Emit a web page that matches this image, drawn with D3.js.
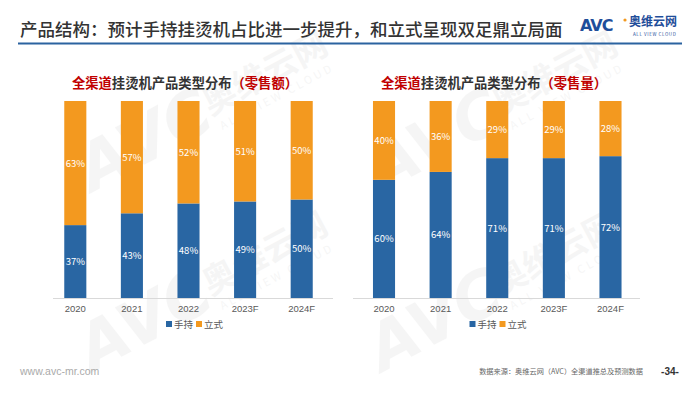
<!DOCTYPE html>
<html><head><meta charset="utf-8">
<script src="https://cdn.jsdelivr.net/npm/d3@7"></script>
<style>html,body{margin:0;padding:0;background:#fff;}svg{display:block;}</style>
</head><body>
<svg id="c" width="700" height="394"></svg>
<script>
const years = ["2020","2021","2022","2023F","2024F"];
const amountHandheld = [37,43,48,49,50];
const amountStanding = [63,57,52,51,50];
const volumeHandheld = [60,64,71,71,72];
const volumeStanding = [40,36,29,29,28];
const seriesNames = ["手持","立式"];
const titleMain = "产品结构：预计手持挂烫机占比进一步提升，和立式呈现双足鼎立局面";
const chartTitles = [["全渠道","挂烫机产品类型分布","（零售额）"],["全渠道","挂烫机产品类型分布","（零售量）"]];

const BLUE = "#2966A3", ORANGE = "#F3991F";
const FONT = "'Noto Sans CJK SC','Noto Sans',sans-serif";
const svg = d3.select("#c");

// watermarks
function watermark(cx, cy){
  const g = svg.append("g").attr("transform",`translate(${cx},${cy}) rotate(-28)`).attr("fill","#000").attr("opacity",0.035);
  g.append("text").attr("x",-120).attr("y",18).attr("font-family","'DejaVu Sans',sans-serif").attr("font-weight","bold").attr("font-style","italic").attr("font-size",64).text("AVC");
  g.append("text").attr("x",20).attr("y",6).attr("font-family",FONT).attr("font-weight","bold").attr("font-size",34).text("奥维云网");
  g.append("text").attr("x",24).attr("y",24).attr("font-family",FONT).attr("font-size",11).attr("letter-spacing",3).text("ALL VIEW CLOUD");
}
watermark(190,120); watermark(190,300); watermark(480,120); watermark(480,300);

// header
svg.append("text").attr("x",20).attr("y",36).attr("font-family",FONT).attr("font-size",17.5).attr("font-weight",500).attr("fill","#333").text(titleMain);
svg.append("line").attr("x1",18).attr("x2",682).attr("y1",43.5).attr("y2",43.5).attr("stroke","#2B63A0").attr("stroke-width",2);
// logo
svg.append("text").attr("x",580).attr("y",31).attr("font-family","'DejaVu Sans',sans-serif").attr("font-weight","bold").attr("font-size",16).attr("fill","#1F4E9A").attr("letter-spacing",-1).text("AVC");
svg.append("circle").attr("cx",625).attr("cy",20).attr("r",1.6).attr("fill",ORANGE);
svg.append("text").attr("x",629).attr("y",26).attr("font-family",FONT).attr("font-weight","bold").attr("font-size",12).attr("fill","#1F4E9A").text("奥维云网");
svg.append("text").attr("x",633).attr("y",36).attr("font-family",FONT).attr("font-size",4.5).attr("fill","#1F4E9A").attr("letter-spacing",0.6).text("ALL VIEW CLOUD");

// footer
svg.append("text").attr("x",20).attr("y",375).attr("font-family","'Liberation Sans',sans-serif").attr("font-size",10.5).attr("fill","#aaa").text("www.avc-mr.com");
svg.append("text").attr("x",643).attr("y",374).attr("text-anchor","end").attr("font-family",FONT).attr("font-size",7.2).attr("fill","#666").text("数据来源：奥维云网（AVC）全渠道推总及预测数据");
svg.append("text").attr("x",670).attr("y",375).attr("text-anchor","middle").attr("font-family","'Liberation Sans',sans-serif").attr("font-weight","bold").attr("font-size",10).attr("fill","#333").text("-34-");

function drawChart(range, axisRange, handheld, standing, titleParts, titleX){
  const x = d3.scaleBand().domain(years).range(range).paddingInner(0.61).paddingOuter(0.305);
  const y = d3.scaleLinear().domain([0,100]).range([298,101]);
  const g = svg.append("g");
  const t = g.append("text").attr("x",titleX).attr("y",88).attr("text-anchor","middle").attr("font-family",FONT).attr("font-weight","bold").attr("font-size",13.3);
  t.append("tspan").attr("fill","#C00000").text(titleParts[0]);
  t.append("tspan").attr("fill","#333").text(titleParts[1]);
  t.append("tspan").attr("fill","#C00000").text(titleParts[2]);
  g.append("line").attr("x1",axisRange[0]).attr("x2",axisRange[1]).attr("y1",298.5).attr("y2",298.5).attr("stroke","#d9d9d9").attr("stroke-width",1);
  const rows = years.map((yr,i)=>({yr, h:handheld[i], s:standing[i]}));
  g.selectAll(".h").data(rows).join("rect").attr("x",d=>x(d.yr)).attr("width",x.bandwidth())
    .attr("y",d=>y(d.h)).attr("height",d=>y(0)-y(d.h)).attr("fill",BLUE);
  g.selectAll(".s").data(rows).join("rect").attr("x",d=>x(d.yr)).attr("width",x.bandwidth())
    .attr("y",d=>y(d.h+d.s)).attr("height",d=>y(d.h)-y(d.h+d.s)).attr("fill",ORANGE);
  g.selectAll(".hl").data(rows).join("text").attr("x",d=>x(d.yr)+x.bandwidth()/2).attr("y",d=>y(d.h/2)+3.5)
    .attr("text-anchor","middle").attr("font-family",FONT).attr("font-size",9.5).attr("fill","#fff").text(d=>d.h+"%");
  g.selectAll(".sl").data(rows).join("text").attr("x",d=>x(d.yr)+x.bandwidth()/2).attr("y",d=>y(d.h+d.s/2)+3.5)
    .attr("text-anchor","middle").attr("font-family",FONT).attr("font-size",9.5).attr("fill","#fff").text(d=>d.s+"%");
  const ax = g.append("g").attr("transform","translate(0,298)").call(d3.axisBottom(x).tickSize(0).tickPadding(7));
  ax.select(".domain").remove();
  ax.selectAll("text").attr("font-family","'Liberation Sans',sans-serif").attr("font-size",9.5).attr("fill","#595959");
  const cx = (axisRange[0]+axisRange[1])/2 - 3;
  const lg = g.append("g").attr("transform",`translate(${cx-24},324)`);
  [BLUE, ORANGE].forEach((c,i)=>{
    lg.append("rect").attr("x",i*30).attr("y",-3).attr("width",6).attr("height",6).attr("fill",c);
    lg.append("text").attr("x",i*30+8).attr("y",3.5).attr("font-family",FONT).attr("font-size",9.5).attr("fill","#595959").text(seriesNames[i]);
  });
}
drawChart([47,330],[53,333],amountHandheld,amountStanding,chartTitles[0],185);
drawChart([355.7,638.8],[353,640],volumeHandheld,volumeStanding,chartTitles[1],494);
</script>
</body></html>
